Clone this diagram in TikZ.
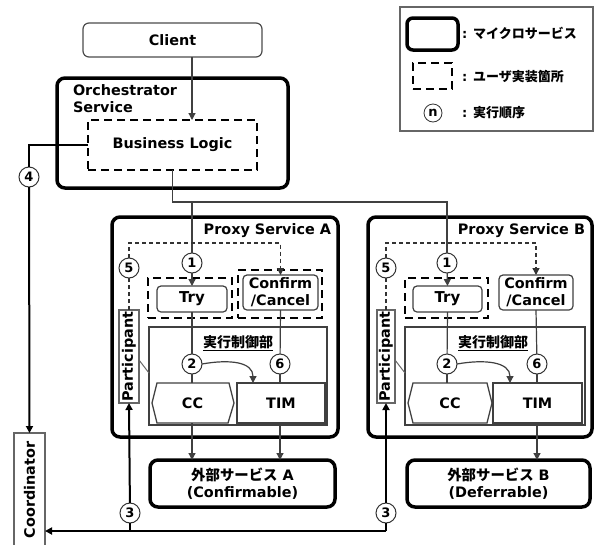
\documentclass[tikz,border=0pt]{standalone}
\usepackage{fontspec}
\setmainfont{DejaVu Sans}
\newfontfamily\jp{Noto Sans CJK JP}
\usetikzlibrary{arrows.meta,calc}
\begin{document}
\begin{tikzpicture}[x=1pt,y=-1pt,
 every node/.style={inner sep=0pt, outer sep=0pt},
 fnt/.style={font=\fontsize{14.4}{17}\selectfont\bfseries},
 jfnt/.style={font=\fontsize{14}{16}\selectfont\bfseries\jp},
 ms/.style={draw=black, line width=3.5pt, rounded corners=8pt},
 ub/.style={draw=black, line width=2pt, dash pattern=on 8pt off 5pt},
 ib/.style={draw=black!75, line width=1.2pt, rounded corners=4pt, fill=white},
 plain/.style={draw=black!75, line width=1.3pt},
 gb/.style={draw=black!60, line width=1.2pt, fill=white},
 num/.style={circle, draw=black!80, line width=1pt, fill=white, minimum size=20pt, font=\fontsize{13}{13}\selectfont\bfseries},
 conn/.style={draw=black!75, line width=1.2pt},
 boldl/.style={draw=black, line width=2pt},
 dsh/.style={draw=black!80, line width=1.3pt, dash pattern=on 4pt off 3pt},
 tip/.style={-{Triangle[length=7pt,width=7pt]}},
]
\clip (0,0) rectangle (594,544);
\fill[white] (0,0) rectangle (594,544);

% legend
\node[gb, minimum width=193pt, minimum height=124pt] (legend) at (496.5,69) {};
\node[ms, rounded corners=6pt, minimum width=51pt, minimum height=32pt] (leg1) at (432.5,34) {};
\node[ub, minimum width=39pt, minimum height=26pt] (leg2) at (432.5,76) {};
\node[num, line width=0.8pt, minimum size=18pt] (legn) at (433,113) {n};
\node[font=\fontsize{13}{15}\selectfont\bfseries, anchor=west] (legt1) at (462,33) {: {\jp マイクロサービス}};
\node[font=\fontsize{13}{15}\selectfont\bfseries, anchor=west] (legt2) at (462,77) {: {\jp ユーザ実装箇所}};
\node[font=\fontsize{13}{15}\selectfont\bfseries, anchor=west] (legt3) at (462,113) {: {\jp 実行順序}};

% client & orchestrator
\node[draw=black!70, line width=1.2pt, rounded corners=6pt, minimum width=179pt, minimum height=34pt, fnt] (client) at (172.5,40) {Client};
\node[ms, minimum width=231pt, minimum height=110pt] (orch) at (172.5,133) {};
\node[fnt, anchor=north west, align=left] (orchl) at (73,85) {Orchestrator\\Service};
\node[ub, minimum width=169pt, minimum height=50pt, fnt] (BL) at (172.5,145) {Business Logic};

% proxy A
\node[ms, minimum width=226pt, minimum height=220pt] (proxyA) at (225,327) {};
\node[fnt, anchor=base east] (proxyAl) at (331,234) {Proxy Service A};
\node[ub, minimum width=84pt, minimum height=40pt] (tryAo) at (190,298) {};
\node[ib, minimum width=70pt, minimum height=26pt, font=\fontsize{15}{17}\selectfont\bfseries] (tryA) at (192,299) {Try};
\node[ub, minimum width=84pt, minimum height=48pt] (confAo) at (280,294) {};
\node[ib, minimum width=75pt, minimum height=35pt, fnt, align=center] (confA) at (280.5,292.5) {Confirm\\/Cancel};
\node[plain, minimum width=178pt, minimum height=98pt] (execA) at (238,376) {};
\node[jfnt] (execAl) at (238,343) {\underline{実行制御部}};
\draw[plain, fill=white] (157,383) -- (229,383) -- (234,403) -- (228,423) -- (157,423) -- (152,403) -- cycle;
\node[fnt] (ccA) at (192.5,403) {CC};
\node[plain, fill=white, minimum width=88pt, minimum height=40pt, fnt] (timA) at (281,403) {TIM};
\node[gb, minimum width=20pt, minimum height=93pt] (partA) at (129,356.5) {};
\node[fnt, rotate=90] (partAl) at (129,356.5) {Participant};
\node[ms, minimum width=185pt, minimum height=47pt, align=center, fnt] (extA) at (242.5,483.5) {{\jp 外部サービス} A\\(Confirmable)};

% proxy B
\node[ms, minimum width=224pt, minimum height=220pt] (proxyB) at (480,327) {};
\node[fnt, anchor=base east] (proxyBl) at (585,234) {Proxy Service B};
\node[ub, minimum width=83pt, minimum height=40pt] (tryBo) at (446.5,298) {};
\node[ib, minimum width=69pt, minimum height=26pt, font=\fontsize{15}{17}\selectfont\bfseries] (tryB) at (447.5,299) {Try};
\node[ib, minimum width=74pt, minimum height=35pt, fnt, align=center] (confB) at (536,292.5) {Confirm\\/Cancel};
\node[plain, minimum width=180pt, minimum height=98pt] (execB) at (495,376) {};
\node[jfnt] (execBl) at (493,343) {\underline{実行制御部}};
\draw[plain, fill=white] (413,383) -- (487,383) -- (492,403) -- (487,423) -- (413,423) -- (408,403) -- cycle;
\node[fnt] (ccB) at (450,403) {CC};
\node[plain, fill=white, minimum width=89pt, minimum height=40pt, fnt] (timB) at (537.5,403) {TIM};
\node[gb, minimum width=18pt, minimum height=93pt] (partB) at (386,356.5) {};
\node[fnt, rotate=90] (partBl) at (386,356.5) {Participant};
\node[ms, minimum width=183pt, minimum height=47pt, align=center, fnt] (extB) at (498.5,483.5) {{\jp 外部サービス} B\\(Deferrable)};

% coordinator
\node[gb, minimum width=31pt, minimum height=116pt] (coord) at (29.5,491) {};
\node[fnt, rotate=90] (coordl) at (29.5,490) {Coordinator};

% numbers
\node[num] (c4) at (29,177) {4};
\node[num] (c1A) at (192,263) {1};
\node[num] (c5A) at (129,268) {5};
\node[num] (c2A) at (192,364) {2};
\node[num] (c6A) at (280,364) {6};
\node[num] (c3A) at (130,513) {3};
\node[num] (c1B) at (447,263) {1};
\node[num] (c5B) at (386,268) {5};
\node[num] (c2B) at (447,364) {2};
\node[num] (c6B) at (537,364) {6};
\node[num] (c3B) at (386,513) {3};

% connectors
\draw[conn, tip] (client.south -| c1A) -- (BL.north -| c1A);
\coordinate (j) at (172.5,202);
\draw[conn] (BL.south) -- (j) -- (j -| c1B) -- (c1B);
\draw[conn] (j -| c1A) -- (c1A);
\draw[conn, tip] (c1A) -- (tryA.north);
\draw[conn, tip] (c1B) -- (tryB.north);

\draw[boldl] (BL.west) -| (c4);
\draw[boldl, tip] (c4) -- (coord.north);

\draw[conn] (tryA.south) -- (c2A);
\draw[conn] (c2A) -- (c2A |- timA.north);
\draw[conn] (confA.south) -- (c6A);
\draw[conn] (c6A) -- (c6A |- timA.north);
\draw[conn, tip] (c2A.east) .. controls (230,359) and (253,362) .. ($(timA.north west)+(16,0)$);
\draw[conn, tip] (c2A |- timA.south) -- (c2A |- extA.north);
\draw[conn, tip] (c6A |- timA.south) -- (c6A |- extA.north);

\draw[conn] (tryB.south) -- (c2B);
\draw[conn] (c2B) -- (c2B |- timB.north);
\draw[conn] (confB.south) -- (c6B);
\draw[conn] (c6B) -- (c6B |- timB.north);
\draw[conn, tip] (c2B.east) .. controls (485,359) and (510,362) .. ($(timB.north west)+(17,0)$);
\draw[conn, tip] (c6B |- timB.south) -- (c6B |- extB.north);

\draw[dsh] (partA.north) -- (c5A);
\draw[dsh, tip] (c5A) -- (c5A |- 0,243) -| (confA.north);
\draw[dsh] (partB.north) -- (c5B);
\draw[dsh, tip] (c5B) -- (c5B |- 0,243) -| (confB.north);

\draw[draw=black!60, line width=1pt] (partA.east |- 0,360) -- (execA.west |- 0,373);
\draw[draw=black!60, line width=1pt] (partB.east |- 0,360) -- (execB.west |- 0,373);

\draw[boldl, tip] (c3B |- 0,531) -- (coord.east |- 0,531);
\draw[boldl] (c3A |- 0,531) -- (c3A);
\draw[boldl, tip] (c3A) -- (partA.south);
\draw[boldl] (c3B |- 0,531) -- (c3B);
\draw[boldl, tip] (c3B) -- (partB.south);
\end{tikzpicture}
\end{document}
